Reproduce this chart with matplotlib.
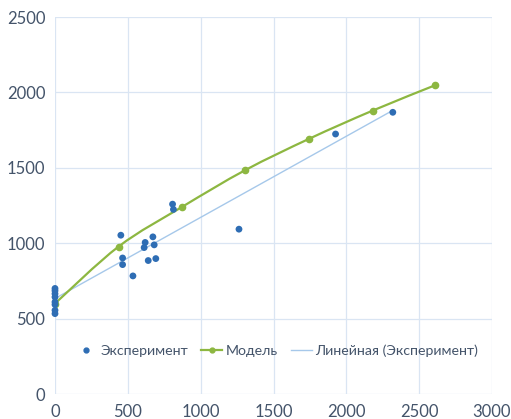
import numpy as np
import matplotlib
matplotlib.use("Agg")
import matplotlib.pyplot as plt
from matplotlib.path import Path
from matplotlib.patches import PathPatch
from matplotlib.lines import Line2D

plt.rcParams['font.family'] = ['Lato', 'DejaVu Sans']

exp_x = [0, 0, 0, 0, 0, 0, 0, 0, 452, 464, 464, 535, 612, 619, 640, 672, 681, 692, 807, 813, 1263, 1926, 2319]
exp_y = [700, 685, 665, 643, 610, 593, 555, 533, 1053, 902, 858, 783, 971, 1005, 885, 1042, 989, 898, 1259, 1224, 1093, 1724, 1868]

model_x = [0, 437, 873, 1307, 1746, 2180, 2611]
model_y = [600, 978, 1241, 1485, 1693, 1879, 2048]

labels = ["Эксперимент", "Модель", "Линейная (Эксперимент)"]

text_c = "#44546A"
grid_c = "#DAE5F3"
blue = "#2E6DB4"
green = "#8DB741"
trend_c = "#A6C8EA"

fig = plt.figure(figsize=(5.11, 4.19), dpi=100)
ax = fig.add_axes([55/511, 25/419, 437/511, 377/419])

ax.set_xlim(0, 3000)
ax.set_ylim(0, 2500)
ax.set_xticks(np.arange(0, 3001, 500))
ax.set_yticks(np.arange(0, 2501, 500))
ax.grid(True, color=grid_c, linewidth=0.9)
ax.set_axisbelow(True)
for s in ax.spines.values():
    s.set_visible(False)
ax.tick_params(length=0, labelsize=12, colors=text_c, pad=7)

# smoothed model line (cubic Bezier through the points, Excel-like)
pts = np.column_stack([model_x, model_y]).astype(float)
verts = [pts[0]]
codes = [Path.MOVETO]
n = len(pts)
for i in range(n - 1):
    p0 = pts[i - 1] if i > 0 else pts[i]
    p1 = pts[i]
    p2 = pts[i + 1]
    p3 = pts[i + 2] if i + 2 < n else pts[i + 1]
    c1 = p1 + (p2 - p0) / 6.0
    c2 = p2 - (p3 - p1) / 6.0
    verts += [c1, c2, p2]
    codes += [Path.CURVE4] * 3
ax.add_patch(PathPatch(Path(verts, codes), facecolor='none', edgecolor=green, lw=1.6, zorder=2))
ax.plot(model_x, model_y, ls='none', color=green, marker='o', ms=4.5, zorder=2)

k, b = np.polyfit(exp_x, exp_y, 1)
tx = np.array([min(exp_x), max(exp_x)])
ax.plot(tx, k * tx + b, color=trend_c, lw=1.0, zorder=1)

ax.scatter(exp_x, exp_y, s=24, color=blue, zorder=3, edgecolors='none', clip_on=False)

handles = [
    Line2D([], [], ls='none', marker='o', ms=3.5, color=blue),
    Line2D([], [], color=green, lw=1.6, marker='o', ms=3.5),
    Line2D([], [], color=trend_c, lw=1.0),
]
leg = ax.legend(handles, labels, loc='center', bbox_to_anchor=(0.508, 0.116), ncol=3, frameon=False,
                fontsize=10.2, handlelength=1.5, handletextpad=0.25, columnspacing=0.9)
for t in leg.get_texts():
    t.set_color(text_c)

fig.savefig("out.png", dpi=100)
